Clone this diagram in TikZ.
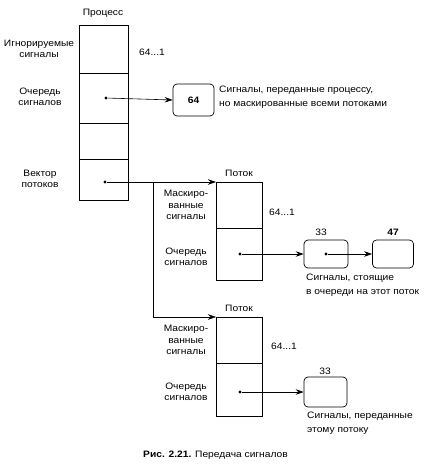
\documentclass[tikz,border=0pt]{standalone}
\usepackage{fontspec}
\setmainfont[FakeStretch=1.1]{Liberation Sans}
\usetikzlibrary{arrows.meta}
\begin{document}
\begin{tikzpicture}[x=1pt,y=-1pt,
  cell/.style={draw,line width=0.7pt},
  lbl/.style={font=\fontsize{9.3}{11.5}\selectfont,align=center,inner sep=0pt},
  ltxt/.style={font=\fontsize{9.3}{13.5}\selectfont,align=left,inner sep=0pt,anchor=north west},
  qbox/.style={draw,line width=0.7pt,rounded corners=4pt,inner sep=0pt},
  pt/.style={circle,fill,inner sep=0pt,minimum size=3.4pt},
  arr/.style={line width=0.6pt,-{Stealth[length=8pt,width=5.5pt]}}]
\useasboundingbox (0,0) rectangle (435,468);
% Process
\node[lbl] (ptitle) at (103,13) {Процесс};
\draw[cell] (79,25) rectangle (128,200);
\draw[cell] (79,73) -- (128,73) (79,123) -- (128,123) (79,159) -- (128,159);
\node[lbl] (ign) at (39,49) {Игнорируемые\\сигналы};
\node[lbl] (r1) at (152,52) {64...1};
\node[lbl] (pq) at (40,97) {Очередь\\сигналов};
\node[lbl] (vec) at (40,179) {Вектор\\потоков};
\node[pt] (d1) at (106,98) {};
\node[pt] (d2) at (105,182) {};
\node[qbox,minimum width=41pt,minimum height=32pt] (b64) at (193.5,100) {\fontsize{9.3}{10}\selectfont\bfseries 64};
\node[ltxt] (t1) at (219,86) {Сигналы, переданные процессу,\\но маскированные всеми потоками};
\draw[arr] (d1) -- (b64.west);
% Thread 1
\node[lbl] (th1) at (239,173) {Поток};
\draw[cell] (216,182) rectangle (262,280);
\draw[cell,line width=0.4pt] (216,228) -- (262,228);
\coordinate (t1in) at (216,182);
\coordinate (t2in) at (216,317);
\coordinate (br) at (153,182);
\draw[arr] (d2) -- (t1in);
\draw[line width=0.4pt,-{Stealth[length=8pt,width=5.5pt]}] (br) |- (t2in);
\node[lbl] (m1) at (186,205) {Маскиро-\\ванные\\сигналы};
\node[lbl] (r2) at (282,212) {64...1};
\node[lbl] (q1) at (186,257) {Очередь\\сигналов};
\node[pt] (d3) at (240,254) {};
\node[qbox,minimum width=44pt,minimum height=28pt] (b33) at (326,254) {};
\node[pt] (d4) at (326,254) {};
\node[qbox,minimum width=41pt,minimum height=28pt] (b47) at (393,254) {};
\node[lbl,font=\fontsize{9.3}{10}\selectfont] (n33) at (321,232) {33};
\node[lbl,font=\fontsize{9.3}{10}\selectfont\bfseries] (n47) at (393,232) {47};
\draw[arr] (d3) -- (b33.west);
\draw[arr] (d4) -- (b47.west);
\node[ltxt] (t2) at (306,274) {Сигналы, стоящие\\в очереди на этот поток};
% Thread 2
\node[lbl] (th2) at (239,308) {Поток};
\draw[cell] (216,317) rectangle (262,416);
\draw[cell] (216,363) -- (262,363);
\node[lbl] (m2) at (186,340) {Маскиро-\\ванные\\сигналы};
\node[lbl] (r3) at (284,346) {64...1};
\node[lbl] (q2) at (186,392) {Очередь\\сигналов};
\node[pt] (d5) at (240,392) {};
\node[qbox,minimum width=43pt,minimum height=30pt] (b33b) at (325.5,392) {};
\node[lbl,font=\fontsize{9.3}{10}\selectfont] (n33b) at (325,371) {33};
\draw[arr] (d5) -- (b33b.west);
\node[ltxt] (t3) at (307,412) {Сигналы, переданные\\этому потоку};
% Caption
\node[lbl,anchor=west] (cap) at (143,455) {\textbf{Рис. 2.21.} Передача сигналов};
\end{tikzpicture}
\end{document}
